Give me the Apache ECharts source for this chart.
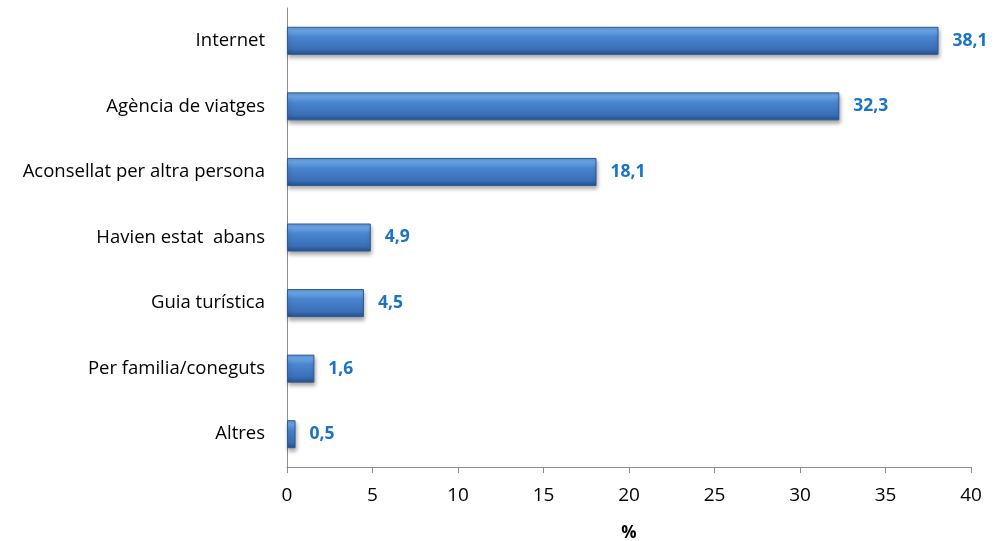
<!DOCTYPE html>
<html><head><meta charset="utf-8">
<script src="https://cdn.jsdelivr.net/npm/echarts@6/dist/echarts.min.js"></script>
<style>html,body{margin:0;padding:0;background:#fff}#c{width:994px;height:541px}</style>
</head><body><div id="c"></div>
<script>
const categories = ["Internet","Agència de viatges","Aconsellat per altra persona","Havien estat  abans","Guia turística","Per familia/coneguts","Altres"];
const values = [38.1, 32.3, 18.1, 4.9, 4.5, 1.6, 0.5];
const xTicks = [0,5,10,15,20,25,30,35,40];
const axisTitle = "%";

const chart = echarts.init(document.getElementById('c'), null, {renderer:'canvas'});
const font = "'Open Sans', 'Liberation Sans', sans-serif";
chart.setOption({
  animation:false,
  grid:{left:287, right:23, top:8, bottom:74, containLabel:false, outerBoundsMode:'none'},
  xAxis:{type:'value', min:xTicks[0], max:xTicks[xTicks.length-1], interval:5,
    name:axisTitle, nameLocation:'middle', nameGap:58,
    nameTextStyle:{fontFamily:font, fontWeight:'bold', fontSize:17, color:'#000'},
    axisLine:{show:true, lineStyle:{color:'#8c8c8c'}},
    axisTick:{show:true, length:6, lineStyle:{color:'#8c8c8c'}},
    splitLine:{show:false},
    axisLabel:{fontFamily:font, fontSize:19, color:'#000', margin:19}},
  yAxis:{type:'category', data:categories.slice().reverse(),
    axisLine:{show:true, lineStyle:{color:'#8c8c8c'}},
    axisTick:{show:false},
    axisLabel:{fontFamily:font, fontSize:18.5, color:'#000', margin:22}},
  series:[{type:'bar', data:values.slice().reverse(), barWidth:28,
    itemStyle:{
      color:new echarts.graphic.LinearGradient(0,0,0,1,[
        {offset:0,color:'#5b95d8'},{offset:0.15,color:'#6fabec'},
        {offset:0.35,color:'#4a86d0'},{offset:0.8,color:'#3a6fb8'},{offset:1,color:'#254f8a'}]),
      borderColor:'#2d5a94', borderWidth:1,
      shadowColor:'rgba(0,0,0,0.35)', shadowBlur:4, shadowOffsetX:1, shadowOffsetY:3},
    label:{show:true, position:'right', distance:14, fontFamily:font, fontWeight:'bold', fontSize:17.5, color:'#1a73c4',
      formatter:p=>String(p.value).replace('.',',')}
  }]
});
</script></body></html>
